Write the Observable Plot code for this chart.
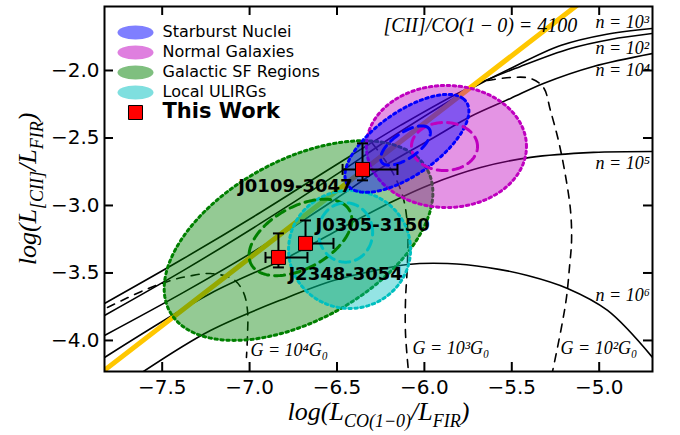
<!DOCTYPE html>
<html><head><meta charset="utf-8">
<script src="https://cdn.jsdelivr.net/npm/d3@7"></script>
<script src="https://cdn.jsdelivr.net/npm/@observablehq/plot@0.6"></script>
<style>body{margin:0;background:#fff}</style>
</head><body><div id="chart"></div>
<script>
// ---------- data ----------
const xTicks = [-7.5, -7.0, -6.5, -6.0, -5.5, -5.0];
const yTicks = [-4.0, -3.5, -3.0, -2.5, -2.0];

// PDR model tracks of constant density (log CO/FIR, log CII/FIR)
const densityNames = ["n = 10²", "n = 10³", "n = 10⁴", "n = 10⁵", "n = 10⁶"];
const n1e2 = [[-7.830,-3.726],[-7.378,-3.393],[-6.938,-3.052],[-6.520,-2.711],[-6.137,-2.407],[-5.753,-2.133],[-5.450,-1.970],[-5.164,-1.837],[-4.935,-1.770],[-4.695,-1.726]];
const n1e3 = [[-7.830,-3.815],[-7.378,-3.481],[-6.938,-3.133],[-6.520,-2.785],[-6.137,-2.452],[-5.753,-2.148],[-5.507,-1.985],[-5.221,-1.815],[-4.964,-1.733],[-4.695,-1.689]];
const n1e4 = [[-7.830,-3.963],[-7.378,-3.644],[-6.938,-3.311],[-6.520,-2.963],[-6.234,-2.711],[-5.965,-2.511],[-5.736,-2.341],[-5.507,-2.207],[-5.319,-2.096],[-5.033,-1.970],[-4.695,-1.874]];
const n1e5 = [[-7.830,-4.126],[-7.224,-3.652],[-6.783,-3.385],[-6.520,-3.200],[-6.194,-2.978],[-5.965,-2.844],[-5.679,-2.719],[-5.393,-2.644],[-5.033,-2.607],[-4.695,-2.600]];
const n1e6 = [[-7.607,-4.230],[-7.224,-3.926],[-6.783,-3.681],[-6.520,-3.556],[-6.308,-3.489],[-6.097,-3.437],[-5.868,-3.430],[-5.639,-3.459],[-5.410,-3.519],[-5.181,-3.615],[-4.952,-3.778],[-4.695,-4.126]];

// tracks of constant FUV field
const fieldNames = ["G = 10⁴G₀", "G = 10³G₀", "G = 10²G₀"];
const g1e4 = [[-7.813,-3.756],[-7.607,-3.630],[-7.452,-3.556],[-7.355,-3.526],[-7.224,-3.504],[-7.092,-3.548],[-7.035,-3.644],[-7.012,-3.778],[-7.012,-3.963],[-7.018,-4.126]];
const g1e3 = [[-6.297,-2.541],[-6.194,-2.726],[-6.125,-2.926],[-6.097,-3.148],[-6.097,-3.430],[-6.108,-3.704],[-6.108,-3.948],[-6.091,-4.230]];
const g1e2 = [[-5.639,-2.074],[-5.507,-2.052],[-5.393,-2.059],[-5.319,-2.126],[-5.279,-2.296],[-5.233,-2.519],[-5.193,-2.778],[-5.164,-3.037],[-5.158,-3.259],[-5.170,-3.459],[-5.187,-3.681],[-5.216,-3.904],[-5.267,-4.230]];

// [CII]/CO(1-0) = 4100 line end points
const ratioLine = [[-7.90,-4.29],[-5.00,-1.39]];

// comparison samples (ellipses): centre, semi-axes, angle in data space
const regionNames = ["Galactic SF Regions", "Local ULIRGs", "Normal Galaxies", "Starburst Nuclei"];
const regionCx = [-6.720, -6.428, -5.874, -6.100];
const regionCy = [-3.260, -3.326, -2.563, -2.540];
const regionA  = [0.918, 0.349, 0.458, 0.462];
const regionB  = [0.543, 0.437, 0.452, 0.210];
const regionAngle = [42.7, 0, 0, 46];
const coreCx = [-6.709, -6.451, -5.885, -6.108];
const coreCy = [-3.237, -3.200, -2.563, -2.556];
const coreA  = [0.350, 0.155, 0.189, 0.185];
const coreB  = [0.210, 0.220, 0.178, 0.085];
const coreAngle = [42.7, 0, 0, 46];
const legendNames = ["Starburst Nuclei", "Normal Galaxies", "Galactic SF Regions", "Local ULIRGs"];

// this work
const quasarNames = ["J0109-3047", "J0305-3150", "J2348-3054"];
const quasarX = [-6.354, -6.680, -6.835];
const quasarY = [-2.733, -3.281, -3.385];
const quasarXLo = [0.114, 0.030, 0.074];
const quasarXHi = [0.200, 0.160, 0.166];
const quasarYLo = [0.081, 0.050, 0.074];
const quasarYHi = [0.193, 0.170, 0.178];

// annotations
const densityLabelX = [-5.021, -5.021, -5.021, -5.021, -5.021];
const densityLabelY = [-1.837, -1.644, -2.000, -2.689, -3.667];
const fieldLabelX = [-6.995, -6.068, -5.221];
const fieldLabelY = [-4.074, -4.059, -4.059];
const ratioLabel = "[CII]/CO(1\u2009−\u20090) = 4100";
const ratioLabelX = -6.234, ratioLabelY = -1.667;
const xLabel = "log(L_CO/L_FIR)";
const yLabel = "log(L_CII/L_FIR)";

// ---------- build tables ----------
const densityRows = [n1e2, n1e3, n1e4, n1e5, n1e6].flatMap((c, i) => c.map(([x, y]) => ({n: densityNames[i], x, y})));
const fieldRows = [g1e4, g1e3, g1e2].flatMap((c, i) => c.map(([x, y]) => ({g: fieldNames[i], x, y})));
const ratioRows = ratioLine.map(([x, y]) => ({x, y}));
function ellipsePts(name, cx, cy, a, b, deg) {
  const p = deg * Math.PI / 180, cp = Math.cos(p), sp = Math.sin(p);
  return d3.range(0, 201).map(i => {
    const t = 2 * Math.PI * i / 200, u = a * Math.cos(t), v = b * Math.sin(t);
    return {region: name, x: cx + u * cp - v * sp, y: cy + u * sp + v * cp};
  });
}
const regionRows = regionNames.flatMap((r, i) => ellipsePts(r, regionCx[i], regionCy[i], regionA[i], regionB[i], regionAngle[i]));
const coreRows = regionNames.flatMap((r, i) => ellipsePts(r, coreCx[i], coreCy[i], coreA[i], coreB[i], coreAngle[i]));
const quasars = quasarNames.map((name, i) => ({name, x: quasarX[i], y: quasarY[i],
  x1: quasarX[i] - quasarXLo[i], x2: quasarX[i] + quasarXHi[i],
  y1: quasarY[i] - quasarYLo[i], y2: quasarY[i] + quasarYHi[i]}));
const densityLabels = densityNames.map((t, i) => ({t, x: densityLabelX[i], y: densityLabelY[i]}));
const fieldLabels = fieldNames.map((t, i) => ({t, x: fieldLabelX[i], y: fieldLabelY[i]}));

// ---------- symbols ----------
const capV = {draw(c) { c.moveTo(0, -5.5); c.lineTo(0, 5.5); }};
const capH = {draw(c) { c.moveTo(-5.5, 0); c.lineTo(5.5, 0); }};
const blob = {draw(c) {
  const rx = 18, ry = 7, k = 0.5523;
  c.moveTo(rx, 0);
  c.bezierCurveTo(rx, ry * k, rx * k, ry, 0, ry);
  c.bezierCurveTo(-rx * k, ry, -rx, ry * k, -rx, 0);
  c.bezierCurveTo(-rx, -ry * k, -rx * k, -ry, 0, -ry);
  c.bezierCurveTo(rx * k, -ry, rx, -ry * k, rx, 0);
  c.closePath();
}};

const serif = "Liberation Serif";
const marks = [
  Plot.line(densityRows, {x: "x", y: "y", z: "n", stroke: "black", strokeWidth: 1.6, curve: "catmull-rom", clip: true}),
  Plot.line(fieldRows, {x: "x", y: "y", z: "g", stroke: "black", strokeWidth: 1.6, strokeDasharray: "8,7", curve: "catmull-rom", clip: true}),
  Plot.line(ratioRows, {x: "x", y: "y", stroke: "#ffc700", strokeWidth: 5, clip: true}),
  Plot.line(regionRows, {x: "x", y: "y", z: "region", fill: "region", fillOpacity: 0.42, stroke: "region", strokeWidth: 3, strokeDasharray: "2.5,3.5"}),
  Plot.line(coreRows, {x: "x", y: "y", z: "region", stroke: "region", strokeWidth: 3, strokeDasharray: "10,6"}),
  Plot.link(quasars, {x1: "x1", x2: "x2", y1: "y", y2: "y", stroke: "black", strokeWidth: 2}),
  Plot.link(quasars, {x1: "x", x2: "x", y1: "y1", y2: "y2", stroke: "black", strokeWidth: 2}),
  Plot.dot(quasars, {x: "x1", y: "y", symbol: capV, stroke: "black", strokeWidth: 2}),
  Plot.dot(quasars, {x: "x2", y: "y", symbol: capV, stroke: "black", strokeWidth: 2}),
  Plot.dot(quasars, {x: "x", y: "y1", symbol: capH, stroke: "black", strokeWidth: 2}),
  Plot.dot(quasars, {x: "x", y: "y2", symbol: capH, stroke: "black", strokeWidth: 2}),
  Plot.dot(quasars, {x: "x", y: "y", symbol: "square", r: 7.9, fill: "#ff0000", stroke: "black", strokeWidth: 1}),
  Plot.text(quasars.filter(d => d.name === quasarNames[0]), {x: "x", y: "y", text: "name", textAnchor: "end", dx: -10, dy: 17, fontWeight: "bold", fontSize: 18}),
  Plot.text(quasars.filter(d => d.name === quasarNames[1]), {x: "x", y: "y", text: "name", textAnchor: "start", dx: 10, dy: -18, fontWeight: "bold", fontSize: 18}),
  Plot.text(quasars.filter(d => d.name === quasarNames[2]), {x: "x", y: "y", text: "name", textAnchor: "start", dx: 10, dy: 17, fontWeight: "bold", fontSize: 18}),
  Plot.text(densityLabels, {x: "x", y: "y", text: "t", textAnchor: "start", fontFamily: serif, fontStyle: "italic", fontSize: 18}),
  Plot.text(fieldLabels, {x: "x", y: "y", text: "t", textAnchor: "start", fontFamily: serif, fontStyle: "italic", fontSize: 18}),
  Plot.text([ratioLabel], {x: () => ratioLabelX, y: () => ratioLabelY, textAnchor: "start", fontFamily: serif, fontStyle: "italic", fontSize: 20}),
  // ticks inside, on all four sides
  Plot.ruleX(xTicks, {x: d => d, insetTop: 356, stroke: "black", strokeWidth: 2}),
  Plot.ruleX(xTicks, {x: d => d, insetBottom: 356, stroke: "black", strokeWidth: 2}),
  Plot.ruleY(yTicks, {y: d => d, insetRight: 539, stroke: "black", strokeWidth: 2}),
  Plot.ruleY(yTicks, {y: d => d, insetLeft: 539, stroke: "black", strokeWidth: 2}),
  Plot.axisX({ticks: xTicks, tickSize: 0, tickPadding: 8, tickFormat: d3.format(".1f"), label: null}),
  Plot.axisY({ticks: yTicks, tickSize: 0, tickPadding: 5, tickFormat: d3.format(".1f"), label: null}),
  Plot.frame({stroke: "black", strokeWidth: 2}),
  Plot.text([xLabel], {frameAnchor: "bottom", dy: 40, textAnchor: "middle", lineAnchor: "middle", fontFamily: serif, fontStyle: "italic", fontSize: 26}),
  Plot.text([yLabel], {frameAnchor: "left", dx: -77, rotate: -90, textAnchor: "middle", lineAnchor: "middle", fontFamily: serif, fontStyle: "italic", fontSize: 26}),
];
// legend
legendNames.forEach((name, i) => {
  marks.push(Plot.dot([name], {frameAnchor: "top-left", dx: 31, dy: 26 + 20 * i, symbol: blob, fill: d => d, fillOpacity: 0.5, stroke: "none"}));
  marks.push(Plot.text([name], {frameAnchor: "top-left", dx: 58, dy: 25 + 20 * i, textAnchor: "start", lineAnchor: "middle", fontSize: 16}));
});
marks.push(Plot.dot(["This Work"], {frameAnchor: "top-left", dx: 31, dy: 106, symbol: "square", r: 7.9, fill: "#ff0000", stroke: "black", strokeWidth: 1}));
marks.push(Plot.text(["This Work"], {frameAnchor: "top-left", dx: 58, dy: 105, textAnchor: "start", lineAnchor: "middle", fontSize: 21, fontWeight: "bold"}));

const chart = Plot.plot({
  width: 680, height: 435,
  marginLeft: 104, marginRight: 28, marginTop: 6, marginBottom: 64,
  x: {domain: [-7.83, -4.695]},
  y: {domain: [-4.23, -1.526]},
  color: {domain: regionNames, range: ["#008000", "#00bfbf", "#bf00bf", "#0000ff"]},
  style: {fontFamily: "DejaVu Sans", fontSize: "20px", background: "white", color: "black"},
  marks
});
document.getElementById("chart").appendChild(chart);

// subscripts in the axis labels (math-style)
function mathLabel(content, parts) {
  const el = Array.from(chart.querySelectorAll("text")).find(t => t.textContent === content);
  if (!el) return;
  el.textContent = "";
  let cur = 0;
  for (const [s, sub] of parts) {
    const t = document.createElementNS("http://www.w3.org/2000/svg", "tspan");
    t.textContent = s;
    const target = sub ? 7 : 0;
    if (target !== cur) t.setAttribute("dy", (target - cur) + "px");
    cur = target;
    if (sub) t.setAttribute("font-size", "18px");
    el.appendChild(t);
  }
}
mathLabel(xLabel, [["log(L", false], ["CO(1−0)", true], ["/L", false], ["FIR", true], [")", false]]);
mathLabel(yLabel, [["log(L", false], ["[CII]", true], ["/L", false], ["FIR", true], [")", false]]);
</script>
</body></html>
